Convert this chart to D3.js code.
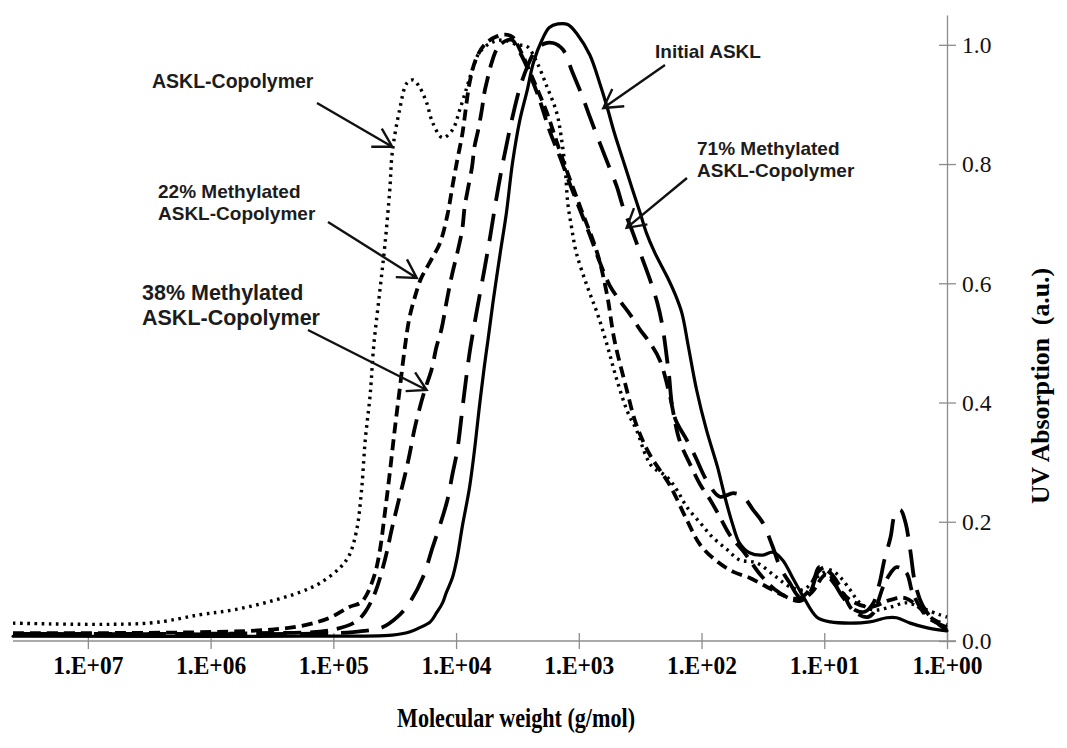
<!DOCTYPE html>
<html><head><meta charset="utf-8">
<script src="https://cdn.jsdelivr.net/npm/d3@7"></script>
<style>html,body{margin:0;padding:0;background:#fff;} svg{display:block;}</style>
</head><body><svg id="chart" width="1067" height="748"></svg>
<script>
// ---- data (x = log10 of molecular weight, y = UV absorption) ----
const xTickValues = [7, 6, 5, 4, 3, 2, 1, 0];
const xTickLabels = ["1.E+07", "1.E+06", "1.E+05", "1.E+04", "1.E+03", "1.E+02", "1.E+01", "1.E+00"];
const yTickValues = [0, 0.2, 0.4, 0.6, 0.8, 1.0];
const yTickLabels = ["0.0", "0.2", "0.4", "0.6", "0.8", "1.0"];
const seriesNames = ["ASKL-Copolymer", "22% Methylated ASKL-Copolymer", "38% Methylated ASKL-Copolymer", "71% Methylated ASKL-Copolymer", "Initial ASKL"];

const initialLogMW = [7.61,5.27,4.52,4.38,4.30,4.21,4.16,4.11,4.08,4.03,3.99,3.95,3.89,3.85,3.81,3.77,3.74,3.70,3.64,3.59,3.54,3.48,3.42,3.37,3.30,3.24,3.17,3.09,3.01,2.91,2.83,2.77,2.71,2.64,2.57,2.50,2.45,2.38,2.28,2.22,2.16,2.11,2.04,1.96,1.87,1.81,1.75,1.69,1.61,1.50,1.42,1.34,1.26,1.17,1.06,0.95,0.79,0.63,0.49,0.41,0.30,0.16,0.00];
const initialAbs = [0.008,0.008,0.010,0.015,0.022,0.032,0.047,0.064,0.081,0.106,0.141,0.191,0.258,0.320,0.393,0.460,0.505,0.567,0.651,0.718,0.802,0.874,0.924,0.970,1.008,1.029,1.035,1.034,1.017,0.983,0.936,0.896,0.852,0.807,0.762,0.718,0.685,0.651,0.611,0.584,0.550,0.497,0.421,0.354,0.292,0.242,0.198,0.164,0.148,0.144,0.149,0.136,0.107,0.074,0.040,0.032,0.030,0.032,0.039,0.039,0.030,0.022,0.017];

const copolyLogMW = [7.61,6.50,6.09,5.82,5.54,5.27,5.11,4.95,4.87,4.81,4.77,4.74,4.70,4.67,4.62,4.58,4.54,4.52,4.46,4.40,4.35,4.30,4.24,4.19,4.11,4.03,3.97,3.91,3.86,3.81,3.72,3.62,3.50,3.42,3.34,3.26,3.18,3.14,3.11,3.09,3.06,3.02,2.93,2.85,2.77,2.69,2.60,2.53,2.45,2.40,2.28,2.20,2.12,2.01,1.91,1.79,1.69,1.55,1.39,1.28,1.17,1.06,0.95,0.87,0.79,0.71,0.60,0.46,0.33,0.20,0.06,0.00];
const copolyAbs = [0.030,0.030,0.044,0.052,0.065,0.082,0.097,0.122,0.144,0.186,0.253,0.337,0.413,0.497,0.589,0.664,0.757,0.819,0.891,0.936,0.941,0.930,0.903,0.869,0.844,0.857,0.891,0.930,0.963,0.987,1.003,1.008,1.000,0.997,0.970,0.930,0.886,0.841,0.790,0.735,0.695,0.651,0.594,0.550,0.497,0.438,0.383,0.354,0.309,0.292,0.275,0.253,0.225,0.198,0.174,0.153,0.136,0.131,0.107,0.091,0.086,0.107,0.119,0.107,0.086,0.064,0.052,0.057,0.064,0.055,0.044,0.040];

const m22LogMW = [7.61,5.68,5.27,5.03,4.87,4.78,4.73,4.66,4.62,4.58,4.54,4.50,4.46,4.42,4.38,4.33,4.29,4.25,4.19,4.13,4.07,4.03,3.99,3.95,3.92,3.89,3.84,3.77,3.68,3.60,3.54,3.48,3.37,3.26,3.15,3.07,2.97,2.85,2.77,2.71,2.62,2.53,2.42,2.26,2.12,2.01,1.87,1.74,1.61,1.47,1.34,1.20,1.10,0.99,0.91,0.79,0.63,0.46,0.34,0.22,0.10,0.00];
const m22Abs = [0.013,0.017,0.025,0.039,0.057,0.064,0.077,0.114,0.153,0.215,0.282,0.354,0.421,0.488,0.542,0.581,0.606,0.622,0.644,0.668,0.715,0.762,0.807,0.849,0.894,0.936,0.975,1.000,1.013,1.017,1.013,0.992,0.941,0.886,0.819,0.773,0.718,0.651,0.581,0.505,0.430,0.362,0.312,0.262,0.203,0.161,0.133,0.116,0.106,0.091,0.077,0.067,0.082,0.111,0.094,0.069,0.057,0.069,0.072,0.055,0.035,0.027];

const m38LogMW = [7.61,5.68,5.03,4.82,4.74,4.66,4.58,4.52,4.46,4.42,4.38,4.34,4.30,4.25,4.20,4.16,4.12,4.07,4.03,3.99,3.95,3.93,3.90,3.87,3.85,3.82,3.79,3.77,3.74,3.71,3.67,3.63,3.58,3.54,3.50,3.44,3.38,3.32,3.24,3.15,3.07,2.99,2.91,2.83,2.75,2.67,2.58,2.50,2.42,2.34,2.26,2.18,2.09,2.01,1.93,1.85,1.77,1.65,1.52,1.40,1.28,1.20,1.14,1.08,1.04,0.95,0.87,0.77,0.65,0.60,0.52,0.46,0.41,0.33,0.28,0.16,0.00];
const m38Abs = [0.012,0.013,0.018,0.032,0.049,0.081,0.136,0.191,0.242,0.275,0.312,0.354,0.388,0.424,0.455,0.493,0.522,0.577,0.617,0.651,0.690,0.728,0.762,0.795,0.829,0.857,0.891,0.919,0.946,0.970,0.992,1.002,1.008,1.008,0.995,0.971,0.941,0.908,0.857,0.810,0.765,0.723,0.681,0.636,0.597,0.572,0.547,0.522,0.500,0.471,0.413,0.337,0.295,0.262,0.237,0.208,0.178,0.148,0.111,0.086,0.072,0.072,0.081,0.106,0.124,0.114,0.091,0.052,0.040,0.047,0.091,0.114,0.124,0.114,0.081,0.040,0.023];

const m71LogMW = [7.61,5.27,4.84,4.60,4.48,4.38,4.27,4.19,4.13,4.07,4.03,3.99,3.94,3.89,3.83,3.77,3.72,3.68,3.63,3.58,3.53,3.48,3.42,3.36,3.28,3.21,3.13,3.05,2.97,2.91,2.83,2.76,2.69,2.64,2.56,2.50,2.42,2.36,2.32,2.27,2.22,2.12,2.05,1.96,1.85,1.74,1.66,1.58,1.50,1.42,1.36,1.28,1.20,1.12,1.05,0.99,0.93,0.85,0.75,0.67,0.60,0.55,0.51,0.46,0.42,0.38,0.34,0.30,0.26,0.20,0.11,0.00];
const m71Abs = [0.012,0.012,0.015,0.023,0.040,0.064,0.107,0.158,0.195,0.237,0.279,0.320,0.404,0.483,0.555,0.622,0.681,0.732,0.790,0.841,0.888,0.928,0.963,0.988,1.002,1.003,0.992,0.953,0.913,0.879,0.836,0.799,0.762,0.728,0.685,0.651,0.606,0.567,0.530,0.455,0.376,0.337,0.309,0.270,0.242,0.248,0.242,0.220,0.198,0.158,0.124,0.097,0.074,0.081,0.116,0.124,0.102,0.074,0.052,0.049,0.064,0.097,0.136,0.174,0.215,0.220,0.200,0.153,0.097,0.060,0.035,0.018];

// annotation targets (data coordinates the arrows point to)
const annotationText = [["ASKL-Copolymer"], ["22% Methylated", "ASKL-Copolymer"], ["38% Methylated", "ASKL-Copolymer"], ["Initial ASKL"], ["71% Methylated", "ASKL-Copolymer"]];
const annotationTipLogMW = [4.52, 4.32, 4.24, 2.80, 2.61];
const annotationTipAbs = [0.829, 0.609, 0.421, 0.894, 0.693];

// ---- layout / styling ----
const svg = d3.select("#chart");
svg.append("rect").attr("width", 1067).attr("height", 748).attr("fill", "#fff");

const x = d3.scaleLinear().domain([7.61, 0]).range([13, 947]);
const y = d3.scaleLinear().domain([0, 1.05]).range([641, 15]);
const axisColor = "#8c8c8c";
const serif = "'Liberation Serif', 'Times New Roman', serif";

// X axis
const gx = svg.append("g").attr("transform", `translate(0,${y(0)})`)
  .call(d3.axisBottom(x).tickValues(xTickValues).tickSize(8).tickSizeOuter(0)
    .tickFormat((d, i) => xTickLabels[i]));
gx.select(".domain").remove();
gx.append("line").attr("x1", x.range()[0]).attr("x2", x.range()[1] + 9)
  .attr("stroke", axisColor).attr("stroke-width", 1.3);
gx.selectAll(".tick line").attr("y1", -8).attr("y2", 8).attr("stroke", axisColor).attr("stroke-width", 1.3);
gx.selectAll(".tick text").attr("y", 24).attr("dy", "0.35em")
  .attr("font-family", serif).attr("font-weight", "bold").attr("font-size", 25).attr("fill", "#000")
  .attr("textLength", 70).attr("lengthAdjust", "spacingAndGlyphs");

// Y axis (right side)
const gy = svg.append("g").attr("transform", `translate(${x(0)},0)`)
  .call(d3.axisRight(y).tickValues(yTickValues).tickSize(9).tickSizeOuter(0)
    .tickFormat((d, i) => yTickLabels[i]));
gy.select(".domain").attr("stroke", axisColor).attr("stroke-width", 1.3);
gy.selectAll(".tick line").attr("x1", -8).attr("x2", 9).attr("stroke", axisColor).attr("stroke-width", 1.3);
gy.selectAll(".tick text").attr("x", 15).attr("dy", "0.33em")
  .attr("font-family", serif).attr("font-size", 23.5).attr("fill", "#111");

// axis titles
svg.append("text").attr("x", 516).attr("y", 727).attr("text-anchor", "middle")
  .attr("font-family", serif).attr("font-weight", "bold").attr("font-size", 27).attr("fill", "#000")
  .attr("textLength", 238).attr("lengthAdjust", "spacingAndGlyphs")
  .text("Molecular weight (g/mol)");
svg.append("text").attr("transform", "translate(1049,386) rotate(-90)").attr("text-anchor", "middle")
  .attr("font-family", serif).attr("font-weight", "bold").attr("font-size", 26).attr("fill", "#000")
  .attr("xml:space", "preserve").attr("textLength", 236).attr("lengthAdjust", "spacingAndGlyphs")
  .text("UV Absorption  (a.u.)");

// curves
const series = [
  { lx: copolyLogMW, ly: copolyAbs, dash: "2.6,4.6", width: 3.4, cap: "butt" },
  { lx: m22LogMW, ly: m22Abs, dash: "11,6", width: 3.8, cap: "butt" },
  { lx: m38LogMW, ly: m38Abs, dash: "18,9", width: 3.8, cap: "butt" },
  { lx: m71LogMW, ly: m71Abs, dash: "28,13", width: 3.8, cap: "butt" },
  { lx: initialLogMW, ly: initialAbs, dash: null, width: 3.2, cap: "round" }
];
const line = d3.line().x(d => x(d[0])).y(d => y(d[1])).curve(d3.curveCatmullRom.alpha(0.5));
series.forEach((s, i) => {
  const pts = s.lx.map((v, j) => [v, s.ly[j]]);
  svg.append("path").datum(pts).attr("d", line)
    .attr("fill", "none").attr("stroke", "#000").attr("stroke-width", s.width)
    .attr("stroke-linecap", s.cap).attr("stroke-linejoin", "round")
    .attr("stroke-dasharray", s.dash).attr("class", "series-" + i)
    .append("title").text(seriesNames[i]);
});

// annotations (label position and arrow tail in px; arrow tip from data)
const annLayout = [
  { tx: 152, ty: 88, size: 19.5, tail: [317, 103] },
  { tx: 158, ty: 198, size: 19, tail: [328, 222] },
  { tx: 142, ty: 300, size: 21.5, tail: [308, 330] },
  { tx: 655, ty: 58, size: 19, tail: [665, 65] },
  { tx: 697, ty: 155, size: 19, tail: [687, 178] }
];
annotationText.forEach((lines, i) => {
  const L = annLayout[i];
  const t = svg.append("text").attr("font-family", "'Liberation Sans', Arial, sans-serif")
    .attr("font-weight", "bold").attr("font-size", L.size).attr("fill", "#1c1c1c");
  lines.forEach((s, k) => t.append("tspan").attr("x", L.tx).attr("y", L.ty + k * (L.size + 3)).text(s));
  const tip = [x(annotationTipLogMW[i]), y(annotationTipAbs[i])];
  const ang = Math.atan2(L.tail[1] - tip[1], L.tail[0] - tip[0]);
  const bl = 21, spread = Math.PI / 6;
  const b1 = [tip[0] + bl * Math.cos(ang + spread), tip[1] + bl * Math.sin(ang + spread)];
  const b2 = [tip[0] + bl * Math.cos(ang - spread), tip[1] + bl * Math.sin(ang - spread)];
  svg.append("path")
    .attr("d", `M${L.tail[0]},${L.tail[1]}L${tip[0]},${tip[1]}M${b1[0]},${b1[1]}L${tip[0]},${tip[1]}L${b2[0]},${b2[1]}`)
    .attr("fill", "none").attr("stroke", "#111").attr("stroke-width", 2.4).attr("stroke-linejoin", "miter");
});
</script>
</body></html>
